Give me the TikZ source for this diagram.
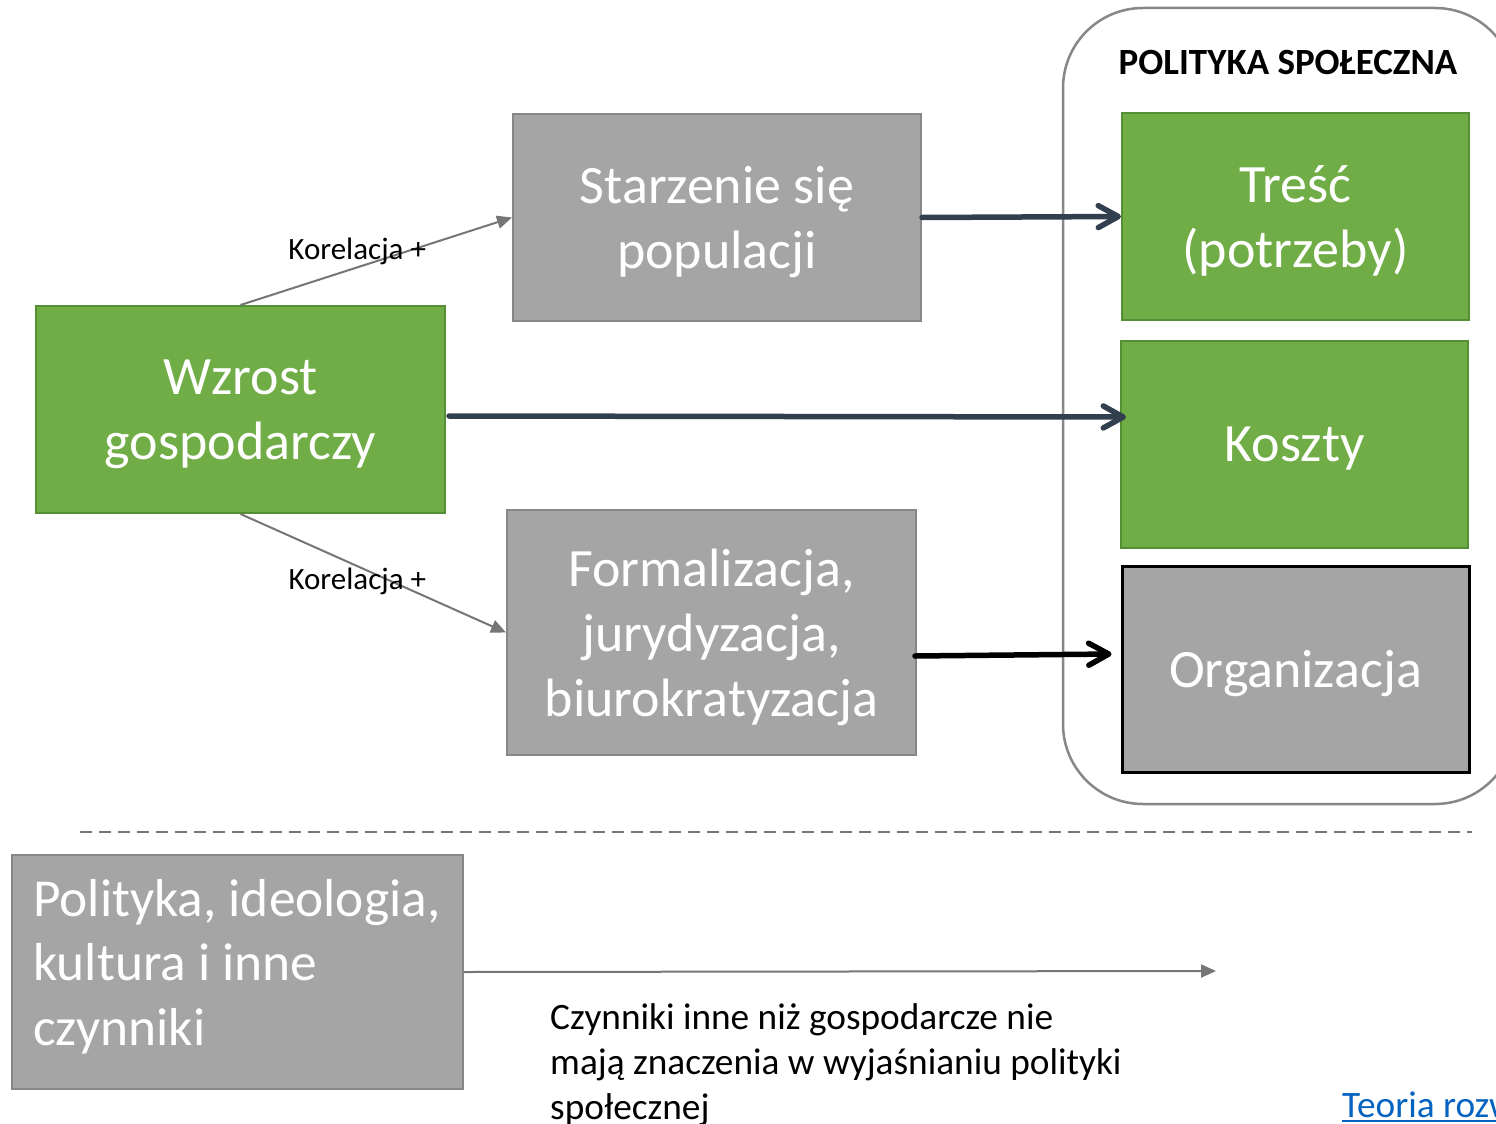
\documentclass[tikz,border=0pt]{standalone}
\usepackage{fontspec}
\setmainfont{Carlito}
\usetikzlibrary{arrows.meta}
\definecolor{gyfill}{HTML}{A5A5A5}
\definecolor{gyline}{HTML}{878787}
\definecolor{grfill}{HTML}{70AD47}
\definecolor{grline}{HTML}{548F35}
\definecolor{navy}{HTML}{323F4F}
\definecolor{conn}{HTML}{767676}
\definecolor{link}{HTML}{0563C1}
\tikzset{
  bigtxt/.style={font=\fontsize{54}{65}\selectfont, text=white, align=center, text depth=0pt},
  grbox/.style={draw=grline, fill=grfill, line width=2pt, inner sep=0pt, bigtxt},
  gybox/.style={draw=gyline, fill=gyfill, line width=2pt, inner sep=0pt, bigtxt},
  thin arrow/.style={draw=conn, line width=2pt, -{Triangle[length=15pt,width=13pt]}},
  thick arrow/.style={line width=5.5pt, line cap=round, -{Straight Barb[length=20pt,width=22pt,line cap=round,line join=round]}},
  smalltxt/.style={font=\fontsize{31}{37}\selectfont, text=black, inner sep=0pt},
}
\begin{document}
\begin{tikzpicture}[x=1pt,y=-1pt]
\clip (0,0) rectangle (1496,1124);
\fill[white] (0,0) rectangle (1496,1124);

% policy frame
\node[draw=gyline, line width=2.5pt, rounded corners=80pt, minimum width=452pt, minimum height=796pt, inner sep=0pt] (ps) at (1289,406) {};
\node[font=\fontsize{37}{44}\selectfont\bfseries, inner sep=0pt] (pst) at (1288,62) {POLITYKA SPOŁECZNA};

% boxes
\node[grbox, minimum width=409pt, minimum height=207pt] (wz) at (240.5,409.5) {Wzrost\\gospodarczy};
\node[gybox, minimum width=408pt, minimum height=207pt] (st) at (717,217.5) {Starzenie się\\populacji};
\node[gybox, minimum width=409pt, minimum height=245pt] (fo) at (711.5,632.5) {Formalizacja,\\jurydyzacja,\\biurokratyzacja};
\node[grbox, minimum width=347pt, minimum height=207pt] (tr) at (1295.5,216.5) {Treść\\(potrzeby)};
\node[grbox, minimum width=347pt, minimum height=207pt] (ko) at (1294.5,444.5) {Koszty};
\node[gybox, draw=black, line width=3pt, minimum width=347pt, minimum height=206pt] (or) at (1295.5,669) {Organizacja};
\node[gybox, minimum width=451pt, minimum height=234pt] (po) at (237.5,972) {};
\node[bigtxt, font=\fontsize{53.4}{64.5}\selectfont, align=left, anchor=west, inner sep=0pt] (pot) at (33,962) {Polityka, ideologia,\\kultura i inne\\czynniki};

% correlations
\draw[thin arrow] (wz.north) -- node[smalltxt, pos=0.43, yshift=16pt] (k1) {Korelacja +} (st.west);
\draw[thin arrow] (wz.south) -- node[smalltxt, pos=0.44, yshift=-15pt] (k2) {Korelacja +} (fo.west);

% main arrows
\draw[thick arrow, draw=navy] (st.east) -- (tr.west);
\draw[thick arrow, draw=navy] ([xshift=3pt,yshift=-6.5pt]wz.east) -- ([xshift=6pt,yshift=27.5pt]ko.west);
\draw[thick arrow, draw=black] ([xshift=-2pt,yshift=-23.5pt]fo.east) -- ([xshift=-9pt,yshift=15pt]or.west);

% separator
\coordinate (d1) at (80,832);
\coordinate (d2) at (1472,832);
\draw[draw=conn, line width=2pt, dash pattern=on 12pt off 7pt] (d1) -- (d2);

% bottom
\coordinate (pe) at (1216,971);
\draw[thin arrow] (po.east) -- (pe);
\node[font=\fontsize{37.3}{45}\selectfont, align=left, anchor=west, inner sep=0pt] (cz) at (550,1065) {Czynniki inne niż gospodarcze nie\\mają znaczenia w wyjaśnianiu polityki\\społecznej};
\node[font=\fontsize{37.3}{45}\selectfont, text=link, anchor=base west, inner sep=0pt] (te) at (1342,1117) {Teoria rozwoju};
\draw[draw=link, line width=2pt] ([yshift=-4pt]te.base west) -- ([yshift=-4pt]te.base east);
\end{tikzpicture}
\end{document}
